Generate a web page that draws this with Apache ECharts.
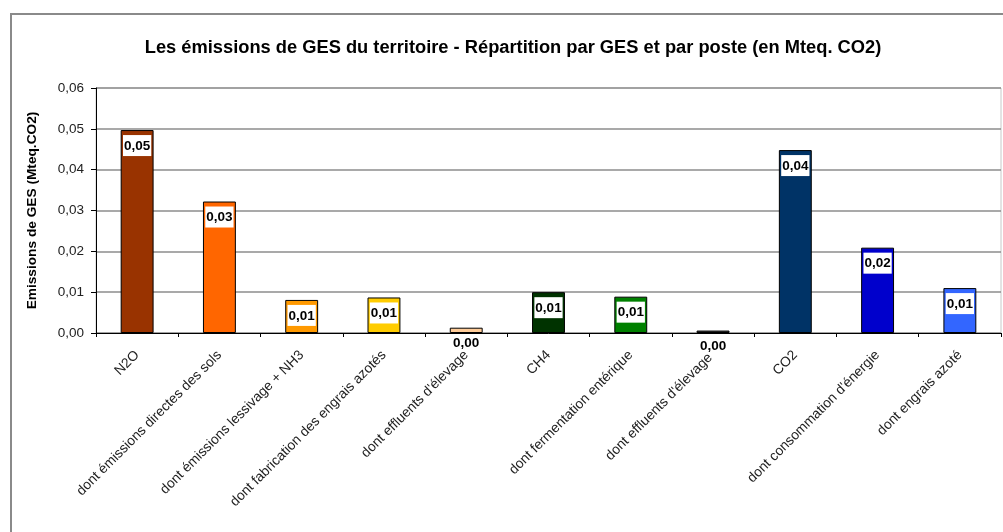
<!DOCTYPE html>
<html>
<head>
<meta charset="utf-8">
<title>Emissions de GES</title>
<script src="https://cdn.jsdelivr.net/npm/echarts@6/dist/echarts.min.js"></script>
<style>
  html, body { margin: 0; padding: 0; background: #fff; }
  #main { width: 1003px; height: 532px; }
</style>
</head>
<body>
<div id="main"></div>
<script>
// postes d'émission
var categories = [
    'N2O',
    'dont émissions directes des sols',
    'dont émissions lessivage + NH3',
    'dont fabrication des engrais azotés',
    "dont effluents d'élevage",
    'CH4',
    'dont fermentation entérique',
    "dont effluents d'élevage ",
    'CO2',
    "dont consommation d'énergie",
    'dont engrais azoté'
];
// valeurs en Mteq. CO2
var emissions = [0.0497, 0.0322, 0.0081, 0.0087, 0.0013, 0.0100, 0.0089, 0.0006, 0.0448, 0.0209, 0.0110];
var yTicks = [0, 0.01, 0.02, 0.03, 0.04, 0.05, 0.06];

var barColors = ['#993300', '#FF6600', '#FF9900', '#FFCC00', '#FFCC99',
    '#003300', '#008000', '#3a3a3a', '#003366', '#0000CC', '#3366FF'];

function fmt(v) {
    return v.toFixed(2).replace('.', ',');
}

var seriesData = emissions.map(function (v, i) {
    var item = { value: v, itemStyle: { color: barColors[i] } };
    // les très petites barres : étiquette sans fond (passe sous l'axe)
    if (v < 0.005) {
        item.label = { backgroundColor: 'transparent' };
    }
    return item;
});

var myChart = echarts.init(document.getElementById('main'));
myChart.setOption({
    animation: false,
    backgroundColor: '#fff',
    textStyle: { fontFamily: 'Arial, "Liberation Sans", sans-serif' },
    title: {
        text: 'Les émissions de GES du territoire - Répartition par GES et par poste (en Mteq. CO2)',
        left: 508,
        textAlign: 'center',
        top: 34,
        textStyle: { fontSize: 18.3, fontWeight: 'bold', color: '#000' }
    },
    graphic: [{
        type: 'rect',
        shape: { x: 11, y: 14, width: 1100, height: 600 },
        style: { fill: 'none', stroke: '#8a8a8a', lineWidth: 2 },
        silent: true,
        z: -1
    }],
    grid: {
        left: 96,
        top: 88,
        right: 2,
        bottom: 199,
        show: true,
        borderColor: '#c8c8c8',
        borderWidth: 1
    },
    xAxis: {
        type: 'category',
        data: categories,
        axisLine: { lineStyle: { color: '#000', width: 1 } },
        axisTick: { show: true, length: 4, lineStyle: { color: '#000' } },
        axisLabel: {
            rotate: 45,
            interval: 0,
            margin: 20,
            fontSize: 13.8,
            color: '#222'
        }
    },
    yAxis: {
        type: 'value',
        min: yTicks[0],
        max: yTicks[yTicks.length - 1],
        interval: 0.01,
        name: 'Emissions de GES (Mteq.CO2)',
        nameLocation: 'middle',
        nameGap: 57,
        nameTextStyle: { fontSize: 13.7, fontWeight: 'bold', color: '#000' },
        axisLine: { show: true, lineStyle: { color: '#000', width: 1 } },
        axisTick: { show: true, length: 5, lineStyle: { color: '#000' } },
        axisLabel: {
            margin: 12,
            fontSize: 13.5,
            color: '#222',
            formatter: function (v) { return fmt(v); }
        },
        splitLine: { lineStyle: { color: '#8c8c8c', width: 1.5 } }
    },
    series: [{
        type: 'bar',
        data: seriesData,
        barWidth: '40%',
        itemStyle: { borderColor: '#000', borderWidth: 1 },
        label: {
            show: true,
            position: 'insideTop',
            distance: 5,
            formatter: function (p) { return fmt(p.value); },
            backgroundColor: '#fff',
            padding: [4, 1, 3, 1],
            fontSize: 13.5,
            fontWeight: 'bold',
            color: '#000'
        }
    }]
});
</script>
</body>
</html>
